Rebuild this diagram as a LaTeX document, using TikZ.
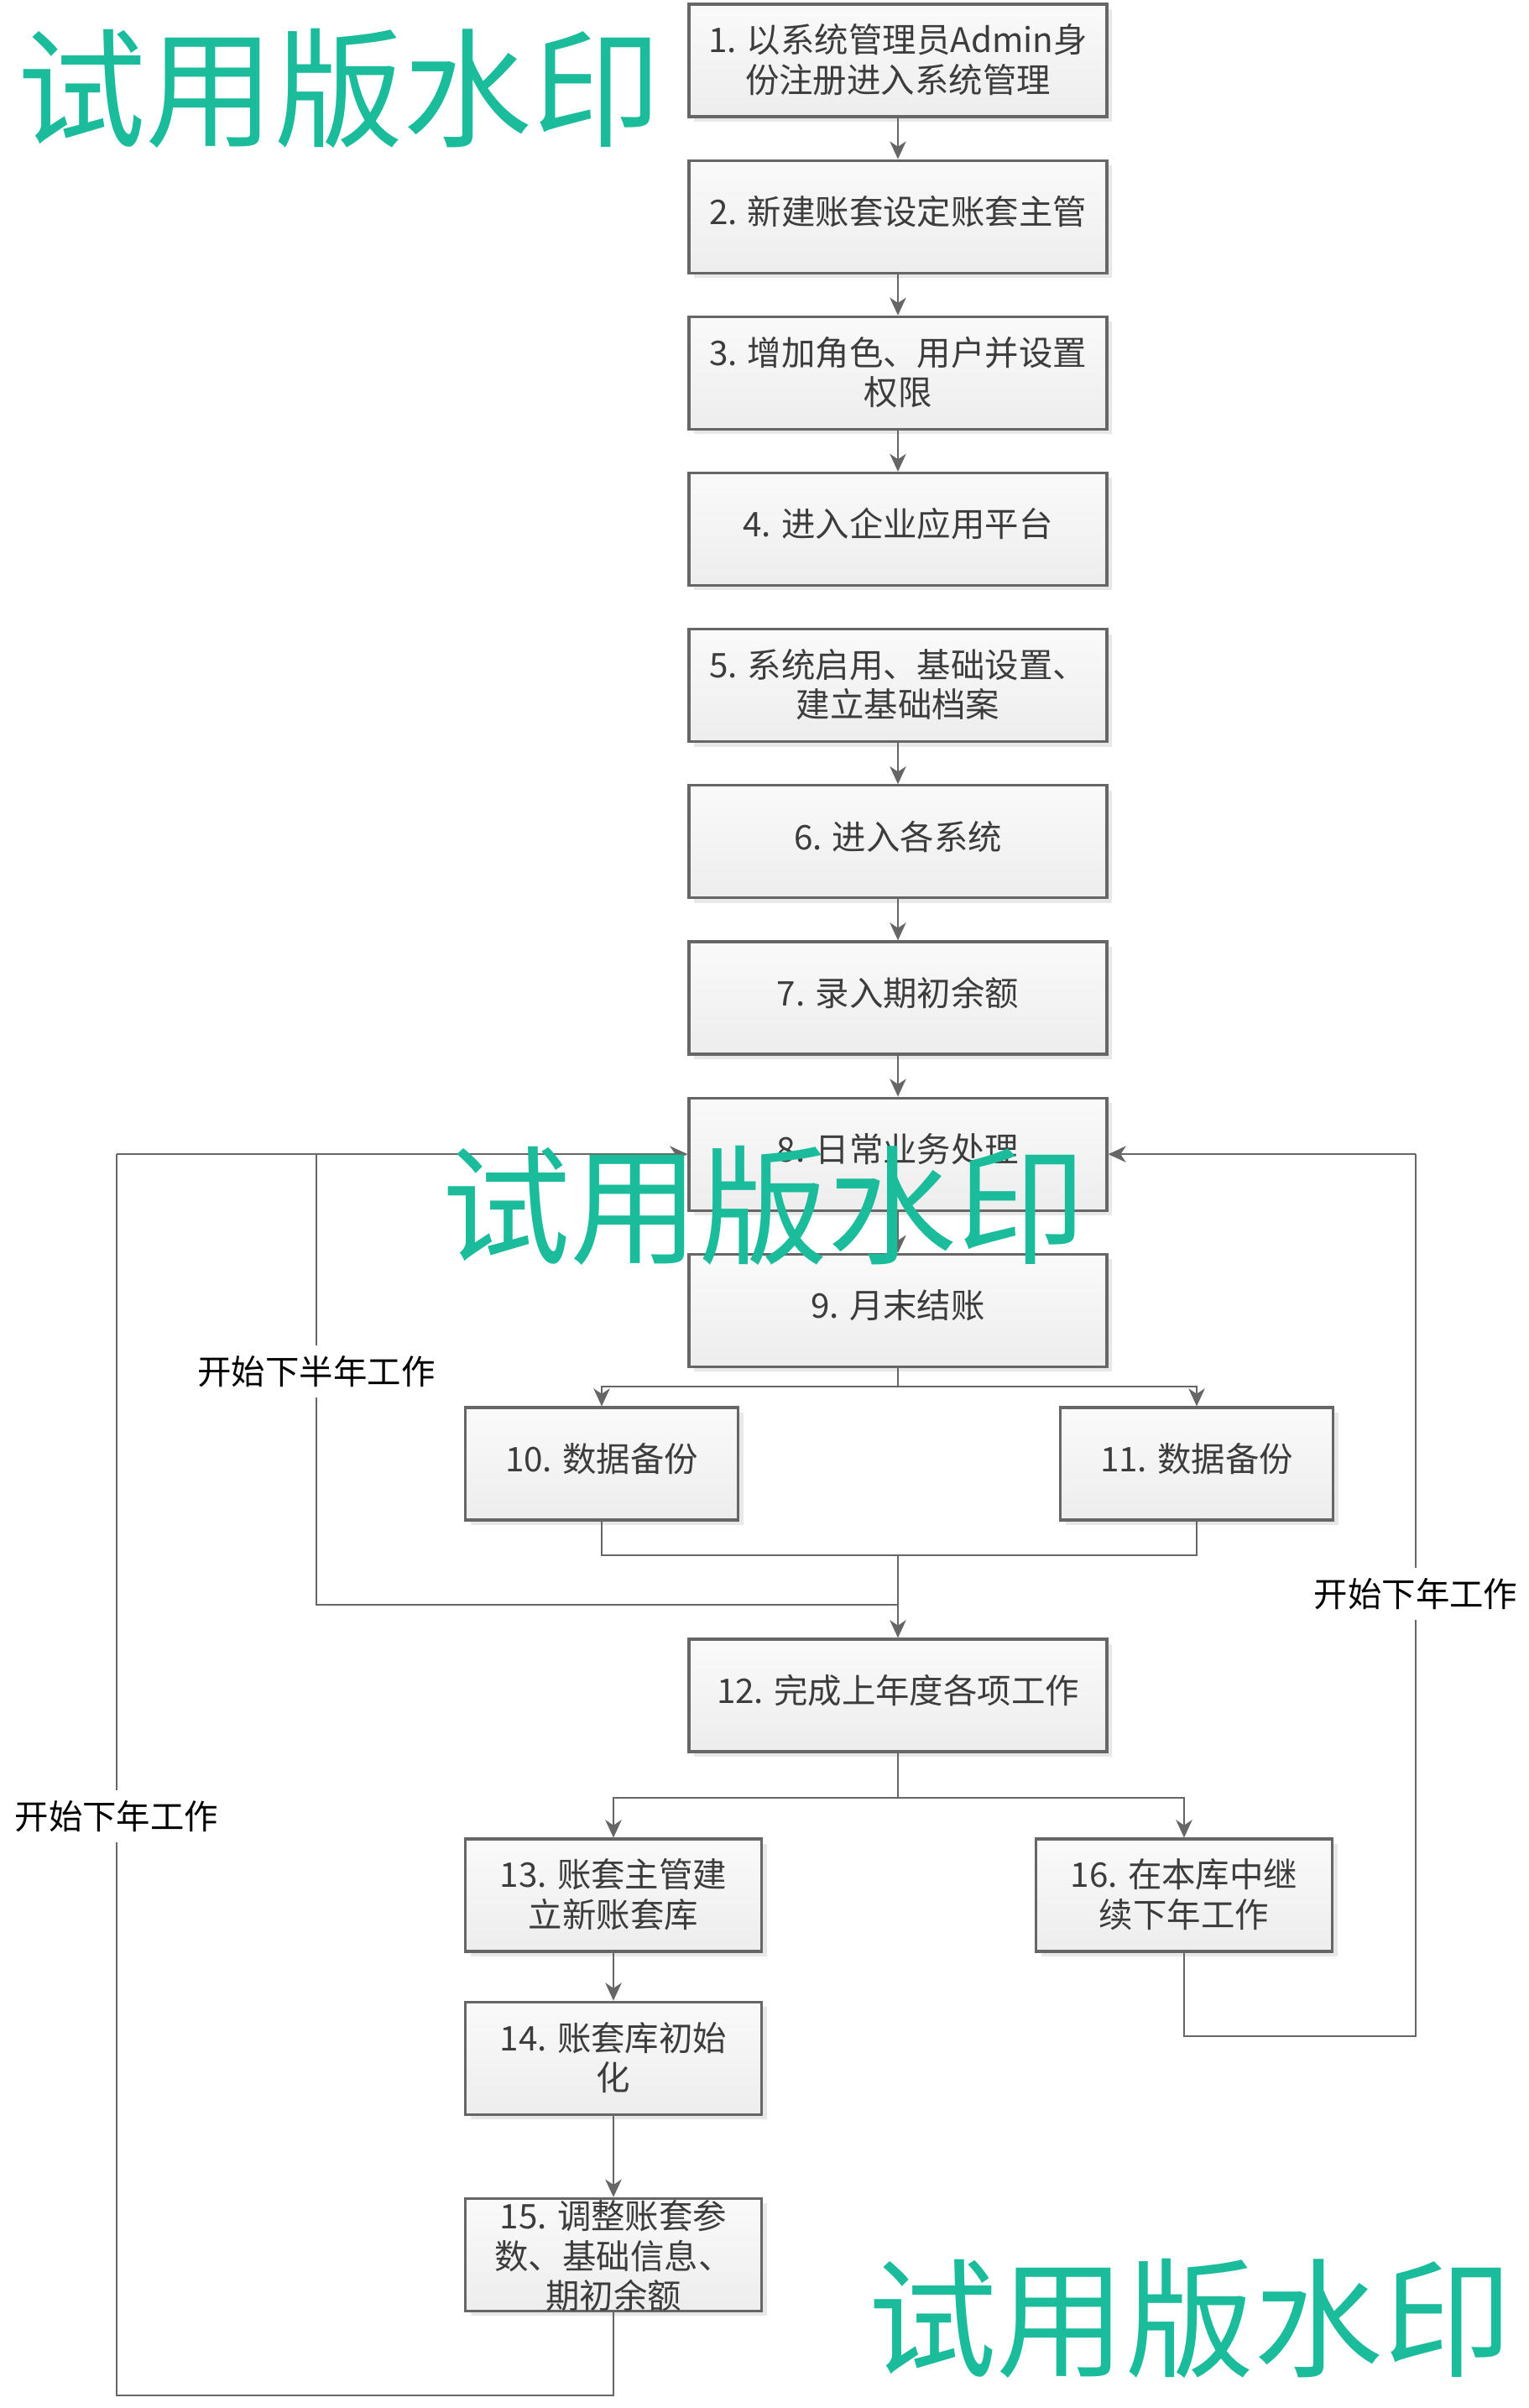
\documentclass[tikz,border=0pt]{standalone}
\usepackage{fontspec}
\setmainfont{Noto Sans CJK SC}
\usepackage{tikz}
\usetikzlibrary{arrows.meta, positioning, shadows}
\definecolor{flowGray}{RGB}{102,102,102}
\definecolor{flowText}{RGB}{60,60,60}
\definecolor{markGreen}{RGB}{26,188,156}

\begin{document}
\begin{tikzpicture}[
  node distance=0.49cm,
  stepbox/.style={rectangle, draw=flowGray, line width=0.9pt,
                  top color=white!98!black, bottom color=black!7,
                  drop shadow={shadow xshift=0.06cm, shadow yshift=-0.06cm,
                               fill=black!9, opacity=1},
                  minimum width=4.98cm, minimum height=1.34cm, inner sep=2pt,
                  text depth=4.5pt,
                  align=center, text=flowText, font=\fontsize{11.5}{13.5}\selectfont},
  twoline/.style={text depth=1.4pt},
  smallbox/.style={stepbox, minimum width=3.25cm},
  midbox/.style={stepbox, minimum width=3.53cm},
  arrow/.style={-{Stealth[length=6pt, width=5.5pt, inset=1.8pt]}, line width=0.75pt, flowGray},
  link/.style={line width=0.75pt, flowGray},
  looplabel/.style={fill=white, inner sep=0.12cm, font=\fontsize{11.5}{13.5}\selectfont},
  watermark/.style={text=markGreen, inner sep=0pt, font=\fontsize{43.7}{50}\selectfont},
]
  \fill[white] (0,0) rectangle (18.22,-28.69);
  \useasboundingbox (0,0) rectangle (18.22,-28.69);

  % main column
  \node[stepbox, twoline] (b1) at (10.70,-0.72) {1. 以系统管理员Admin身\\份注册进入系统管理};
  \node[stepbox, below=of b1] (b2) {2. 新建账套设定账套主管};
  \node[stepbox, twoline, below=of b2] (b3) {3. 增加角色、用户并设置\\权限};
  \node[stepbox, below=of b3] (b4) {4. 进入企业应用平台};
  \node[stepbox, twoline, below=of b4] (b5) {5. 系统启用、基础设置、\\建立基础档案};
  \node[stepbox, below=of b5] (b6) {6. 进入各系统};
  \node[stepbox, below=of b6] (b7) {7. 录入期初余额};
  \node[stepbox, below=of b7] (b8) {8. 日常业务处理};
  \node[stepbox, below=of b8] (b9) {9. 月末结账};

  % year end
  \node[smallbox] (b10) at (7.17,-17.44) {10. 数据备份};
  \node[smallbox] (b11) at (14.26,-17.44) {11. 数据备份};
  \node[stepbox] (b12) at (10.70,-20.20) {12. 完成上年度各项工作};
  \node[midbox, twoline] (b13) at (7.31,-22.58) {13. 账套主管建\\立新账套库};
  \node[midbox, twoline] (b16) at (14.11,-22.58) {16. 在本库中继\\续下年工作};
  \node[midbox, twoline, below=0.57cm of b13] (b14) {14. 账套库初始\\化};
  \node[midbox, inner ysep=0pt, text depth=0pt, below=0.97cm of b14] (b15) {15. 调整账套参\\数、基础信息、\\期初余额};

  \coordinate (fork9) at (10.70,-16.52);
  \coordinate (join11) at (10.70,-18.53);
  \coordinate (halfyear) at (10.70,-19.12);
  \coordinate (fork12) at (10.70,-21.42);
  \coordinate (lpost) at (1.39,0 |- b8);
  \coordinate (mpost) at (3.77,0 |- b8);
  \coordinate (rpost) at (16.87,0 |- b8);
  \coordinate (lfoot) at (1.39,-28.54);
  \coordinate (rfoot) at (16.87,-24.26);

  \foreach \a/\b in {b1/b2, b2/b3, b3/b4, b5/b6, b6/b7, b7/b8, b8/b9, b13/b14, b14/b15}
    \draw[arrow] (\a) -- (\b);

  \draw[link] (b9) -- (fork9);
  \draw[arrow] (fork9) -| (b10);
  \draw[arrow] (fork9) -| (b11);
  \draw[link] (b10) |- (join11);
  \draw[link] (b11) |- (join11);
  \draw[arrow] (join11) -- (b12);
  \draw[link] (b12) -- (fork12);
  \draw[arrow] (fork12) -| (b13);
  \draw[arrow] (fork12) -| (b16);

  % loops back to 8
  \draw[link] (halfyear) -| (mpost);
  \draw[link] (b15) |- (lfoot) -- (lpost);
  \draw[arrow] (lpost) -- (b8);
  \draw[link] (b16) |- (rfoot) -- (rpost);
  \draw[arrow] (rpost) -- (b8);

  \node[looplabel] (n1) at (3.77,-16.34) {开始下半年工作};
  \node[looplabel] (n2) at (16.87,-18.99) {开始下年工作};
  \node[looplabel] (n3) at (1.39,-21.64) {开始下年工作};

  \node[watermark] (w1) at (4.04,-1.05) {试用版水印};
  \node[watermark] (w2) at (9.10,-14.36) {试用版水印};
  \node[watermark] (w3) at (14.18,-27.62) {试用版水印};
\end{tikzpicture}
\end{document}
